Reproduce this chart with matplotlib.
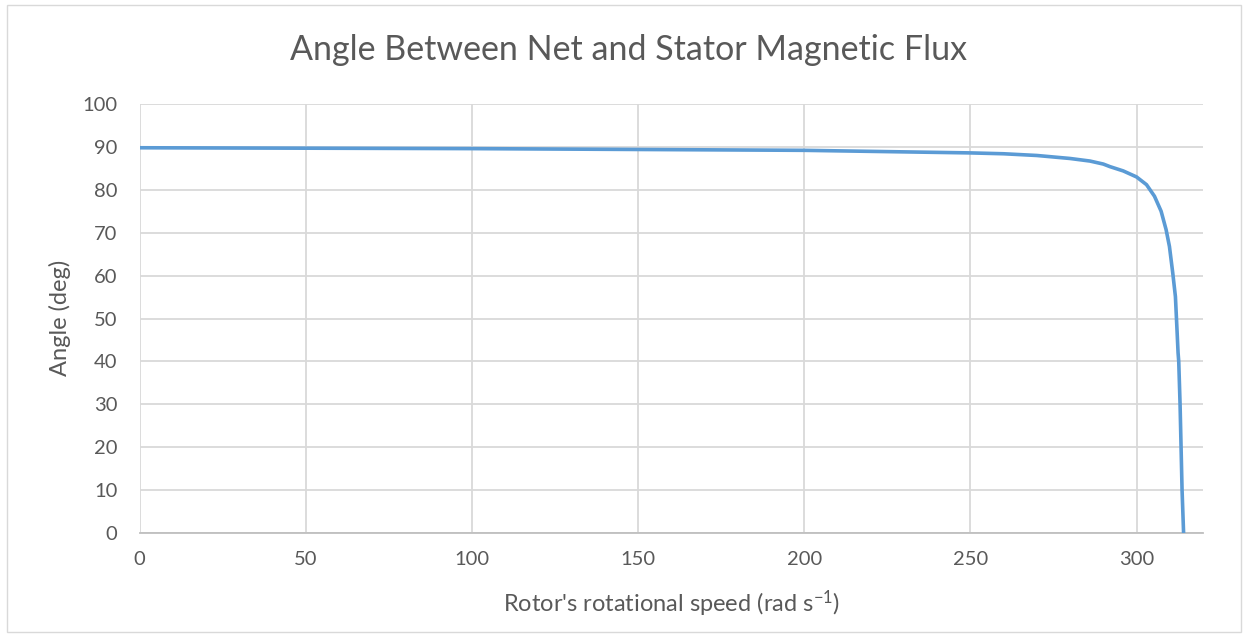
import matplotlib
matplotlib.use("Agg")
import matplotlib.pyplot as plt
from matplotlib.patches import Rectangle

# Rotor speed (rad/s) and angle between net and stator flux (deg)
speed = [0, 50, 100, 150, 200, 250, 260, 270, 280, 286, 290, 292, 296,
         300, 303, 305.4, 307.4, 308.9, 309.9, 310.9, 311.7, 312.2, 312.5,
         312.7, 313.1, 313.4, 313.7, 314.16]
angle = [89.8, 89.7, 89.6, 89.4, 89.2, 88.6, 88.4, 88.0, 87.3, 86.7, 86.0,
         85.4, 84.4, 83.0, 81.2, 78.5, 75.0, 70.7, 66.8, 60.6, 55.1, 47.0,
         42.0, 40.0, 30.0, 20.0, 10.0, 0.0]

x_ticks = [0, 50, 100, 150, 200, 250, 300]
y_ticks = [0, 10, 20, 30, 40, 50, 60, 70, 80, 90, 100]

title = "Angle Between Net and Stator Magnetic Flux"
x_label = r"Rotor's rotational speed (rad s$\mathregular{^{-1}}$)"
y_label = "Angle (deg)"

plt.rcParams["font.family"] = ["Lato", "DejaVu Sans"]
plt.rcParams["mathtext.fontset"] = "custom"
plt.rcParams["mathtext.rm"] = "Lato"

text_color = "#595959"
grid_color = "#d9d9d9"

W, H = 1248, 637
fig = plt.figure(figsize=(W / 100, H / 100), dpi=100)
fig.patch.set_facecolor("white")

# chart border
fig.patches.append(Rectangle((7 / W, 1 - 632 / H), (1241 - 7) / W, (632 - 5) / H,
                             transform=fig.transFigure, fill=False,
                             edgecolor="#d9d9d9", linewidth=1.0))

left, right, top, bottom = 139.5, 1203, 104, 533
ax = fig.add_axes([left / W, 1 - bottom / H, (right - left) / W, (bottom - top) / H])

ax.plot(speed, angle, color="#5b9bd5", linewidth=2.6, solid_capstyle="butt",
        solid_joinstyle="round", zorder=3)

ax.set_xlim(0, 320)
ax.set_ylim(0, 100)
ax.set_xticks(x_ticks)
ax.set_yticks(y_ticks)
ax.grid(True, color=grid_color, linewidth=1.3, zorder=0)
ax.set_axisbelow(True)

for side in ("top", "right", "left"):
    ax.spines[side].set_visible(False)
ax.spines["bottom"].set_color("#bfbfbf")
ax.spines["bottom"].set_linewidth(1.3)

ax.tick_params(axis="both", length=0, labelsize=14.5, labelcolor=text_color)
ax.tick_params(axis="x", pad=13)
ax.tick_params(axis="y", pad=16)

fig.text(628 / W, 1 - 50 / H, title, ha="center", va="center",
         fontsize=24.5, color=text_color)
fig.text(672 / W, 1 - 604 / H, x_label, ha="center", va="center",
         fontsize=17, color=text_color)
fig.text(60 / W, 1 - 318 / H, y_label, ha="center", va="center",
         rotation=90, fontsize=17, color=text_color)

fig.savefig("out.png", dpi=100, facecolor="white")
